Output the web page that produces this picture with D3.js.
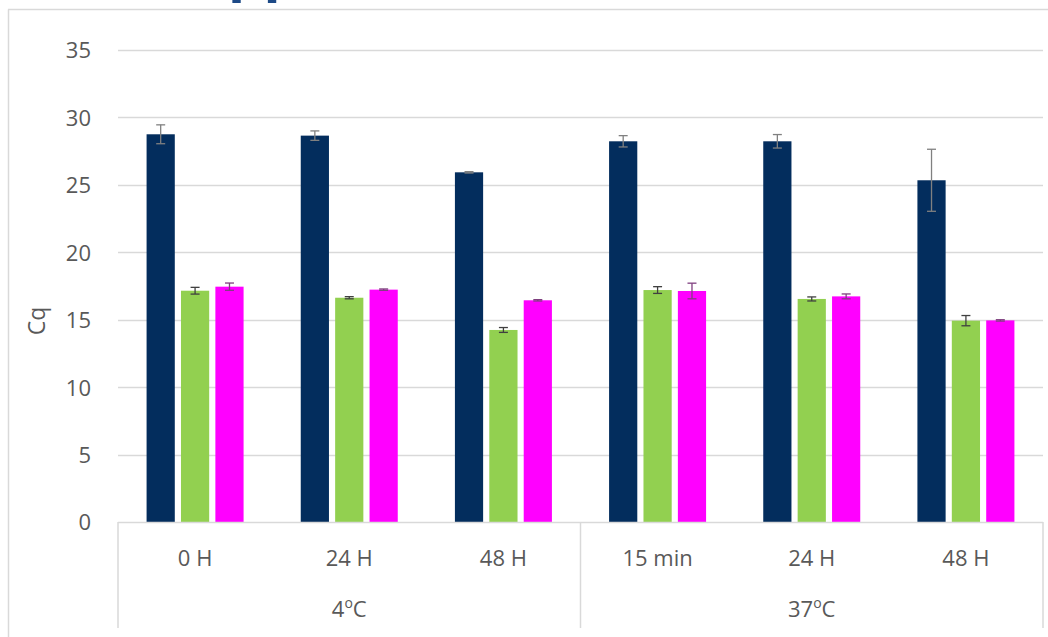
<!DOCTYPE html>
<html><head><meta charset="utf-8">
<script src="https://cdn.jsdelivr.net/npm/d3@7/dist/d3.min.js"></script>
<style>
html,body{margin:0;padding:0;background:#fff;}
svg{display:block;font-family:"Open Sans",sans-serif;}
</style></head>
<body>
<svg id="chart" width="1048" height="637"></svg>
<script>
// ---- data ----
const categories = ["0 H","24 H","48 H","15 min","24 H","48 H"];
const groups = [{name:"4", from:0, to:2},{name:"37", from:3, to:5}];
const seriesNames = ["s1","s2","s3"];
const navyValues    = [28.75, 28.65, 25.93, 28.23, 28.23, 25.34];
const navyErrors    = [0.70, 0.35, 0.05, 0.42, 0.50, 2.30];
const greenValues   = [17.15, 16.63, 14.24, 17.20, 16.54, 14.93];
const greenErrors   = [0.25, 0.08, 0.18, 0.25, 0.15, 0.38];
const magentaValues = [17.45, 17.23, 16.44, 17.13, 16.73, 14.95];
const magentaErrors = [0.27, 0.05, 0.05, 0.58, 0.18, 0.05];
const yTicks = [0,5,10,15,20,25,30,35];
const yLabel = "Cq";

const series = [
  {values:navyValues, errors:navyErrors, color:"#032d5d", err:"#808080"},
  {values:greenValues, errors:greenErrors, color:"#92d050", err:"#404040"},
  {values:magentaValues, errors:magentaErrors, color:"#ff00ff", err:"#7f3f7f"}
];

const svg = d3.select("#chart");
const L = 118, R = 1043, T = 50, B = 522;

const x = d3.scaleBand().domain(d3.range(categories.length)).range([L, R]).paddingInner(0).paddingOuter(0);
const bw = x.bandwidth();
const groupW = 97;
const x1 = d3.scaleBand().domain(d3.range(series.length)).range([0, groupW]).paddingInner(0.18).paddingOuter(0);
const y = d3.scaleLinear().domain([0,35]).range([B, T]);

// outer frame
svg.append("line").attr("x1",8).attr("x2",1048).attr("y1",9.5).attr("y2",9.5).attr("stroke","#d9d9d9").attr("stroke-width",1.5);
svg.append("line").attr("x1",8.5).attr("x2",8.5).attr("y1",9.5).attr("y2",637).attr("stroke","#d9d9d9").attr("stroke-width",1.5);

// partial heading text at top (clipped by the page edge, as in the reference)
svg.append("text").attr("x",228).attr("y",-10).attr("font-size",56).attr("font-weight","bold")
  .attr("fill","#1d4a87").attr("font-family","Open Sans, sans-serif").text("pp");

// gridlines
svg.append("g").selectAll("line").data(yTicks.filter(d=>d>0)).join("line")
  .attr("x1",L).attr("x2",R).attr("y1",d=>Math.round(y(d))+0.5).attr("y2",d=>Math.round(y(d))+0.5)
  .attr("stroke","#d9d9d9").attr("stroke-width",1.3);

// y axis labels
const yAxis = d3.axisLeft(y).tickValues(yTicks).tickSize(0).tickPadding(0);
const ya = svg.append("g").attr("transform",`translate(${L-27},0)`).call(yAxis);
ya.select(".domain").remove();
ya.selectAll("text").attr("font-size",22).attr("fill","#595959").attr("font-family","Open Sans, sans-serif").attr("dy","0.36em");

svg.append("text").attr("transform","translate(45,321) rotate(-90)").attr("text-anchor","middle")
  .attr("font-size",23).attr("fill","#595959").text(yLabel);

// bars
const barsG = svg.append("g");
series.forEach((s,si)=>{
  barsG.append("g").selectAll("rect").data(s.values).join("rect")
    .attr("x",(d,i)=>x(i)+(bw-groupW)/2+x1(si))
    .attr("width",x1.bandwidth())
    .attr("y",d=>y(d)).attr("height",d=>B-y(d))
    .attr("fill",s.color);
});
// error bars
series.forEach((s,si)=>{
  const g = barsG.append("g").attr("stroke",s.err).attr("stroke-width",1.3).attr("fill","none");
  s.values.forEach((v,i)=>{
    const cx = x(i)+(bw-groupW)/2+x1(si)+x1.bandwidth()/2;
    const e = s.errors[i];
    g.append("line").attr("x1",cx).attr("x2",cx).attr("y1",y(v+e)).attr("y2",y(v-e));
    g.append("line").attr("x1",cx-4.5).attr("x2",cx+4.5).attr("y1",y(v+e)).attr("y2",y(v+e));
    g.append("line").attr("x1",cx-4.5).attr("x2",cx+4.5).attr("y1",y(v-e)).attr("y2",y(v-e));
  });
});

// category axis
const axC = "#d9d9d9";
svg.append("line").attr("x1",L).attr("x2",R).attr("y1",B+0.5).attr("y2",B+0.5).attr("stroke",axC).attr("stroke-width",1.5);
const sepXs = [L, x(3), R];
svg.append("g").selectAll("line").data(sepXs).join("line")
  .attr("x1",d=>d).attr("x2",d=>d).attr("y1",B).attr("y2",628).attr("stroke",axC).attr("stroke-width",1.5);

const xAxis = d3.axisBottom(x).tickFormat(i=>categories[i]).tickSize(0).tickPadding(0);
const xa = svg.append("g").attr("transform",`translate(0,${B+36})`).call(xAxis);
xa.select(".domain").remove();
xa.selectAll("text").attr("font-size",22).attr("fill","#595959").attr("font-family","Open Sans, sans-serif").attr("dy","0.36em");

const gl = svg.append("g").selectAll("text").data(groups).join("text")
  .attr("x",d=>(x(d.from)+x(d.to)+bw)/2).attr("y",617)
  .attr("text-anchor","middle").attr("font-size",22).attr("fill","#595959");
gl.append("tspan").text(d=>d.name);
gl.append("tspan").attr("font-size",14).attr("dy",-9).text("o");
gl.append("tspan").attr("dy",9).text("C");
</script>
</body></html>
